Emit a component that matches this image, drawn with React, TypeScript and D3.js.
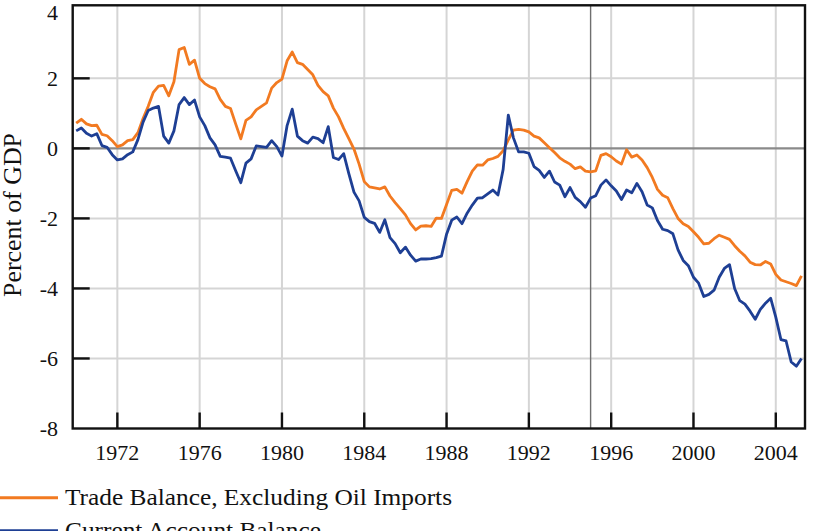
import * as d3 from "d3";

const W = 813;
const H = 531;

// quarterly series, first value is 1970 Q1
const firstQuarter = 1970;
const tradeExOil = [
  0.72, 0.83, 0.7, 0.65,
  0.66, 0.4, 0.36, 0.22,
  0.05, 0.1, 0.22, 0.25,
  0.45, 0.85, 1.2, 1.6,
  1.78, 1.8, 1.5, 1.9,
  2.82, 2.88, 2.4, 2.52,
  2.0, 1.85, 1.76, 1.7,
  1.4, 1.2, 1.14, 0.7,
  0.27, 0.8, 0.9, 1.1,
  1.2, 1.3, 1.72, 1.88,
  1.98, 2.5, 2.75, 2.45,
  2.4, 2.25, 2.1, 1.8,
  1.62, 1.5, 1.15, 0.9,
  0.57, 0.28, -0.02, -0.45,
  -0.95, -1.1, -1.13, -1.16,
  -1.1, -1.36, -1.55, -1.72,
  -1.9, -2.15, -2.33, -2.22,
  -2.21, -2.23, -1.99, -2.0,
  -1.6, -1.2, -1.17, -1.28,
  -0.95, -0.65, -0.47, -0.48,
  -0.33, -0.29, -0.23, -0.07,
  0.24, 0.52, 0.54, 0.52,
  0.47, 0.35, 0.3, 0.16,
  0.02, -0.12, -0.27, -0.37,
  -0.45, -0.58, -0.53, -0.65,
  -0.67, -0.64, -0.2, -0.15,
  -0.24, -0.36, -0.45, -0.04,
  -0.25, -0.19, -0.33, -0.55,
  -0.83, -1.17, -1.34, -1.41,
  -1.72, -2.0, -2.15, -2.23,
  -2.38, -2.54, -2.73, -2.71,
  -2.58, -2.48, -2.54, -2.6,
  -2.78, -2.94, -3.07, -3.25,
  -3.32, -3.33, -3.23, -3.3,
  -3.6, -3.76, -3.81, -3.86,
  -3.92, -3.64,
];
const currentAccount = [
  0.5, 0.58, 0.43, 0.35,
  0.42, 0.08, 0.03, -0.18,
  -0.33, -0.3, -0.18, -0.1,
  0.25, 0.75, 1.08, 1.15,
  1.2, 0.35, 0.15, 0.5,
  1.25, 1.45, 1.25, 1.38,
  0.9, 0.65, 0.3, 0.1,
  -0.23, -0.25, -0.28, -0.64,
  -0.98, -0.42, -0.3, 0.07,
  0.05, 0.03, 0.22, 0.05,
  -0.22, 0.65, 1.12, 0.35,
  0.22, 0.15, 0.32, 0.28,
  0.16, 0.62, -0.26, -0.32,
  -0.15, -0.72, -1.25, -1.5,
  -1.97, -2.09, -2.14, -2.4,
  -2.04, -2.55, -2.72, -2.98,
  -2.82, -3.05, -3.22, -3.16,
  -3.16, -3.15, -3.12, -3.08,
  -2.45, -2.05, -1.96, -2.15,
  -1.85, -1.62, -1.42, -1.41,
  -1.3, -1.19, -1.33, -0.6,
  0.95, 0.3, -0.1, -0.1,
  -0.14, -0.52, -0.63, -0.83,
  -0.65, -0.96, -1.05, -1.38,
  -1.12, -1.4, -1.52, -1.68,
  -1.42, -1.35, -1.05, -0.9,
  -1.07, -1.22, -1.46, -1.19,
  -1.27, -1.0, -1.24, -1.62,
  -1.7, -2.06, -2.31, -2.35,
  -2.44, -2.9, -3.2, -3.35,
  -3.68, -3.85, -4.23, -4.17,
  -4.05, -3.68, -3.43, -3.32,
  -4.0, -4.35, -4.45, -4.65,
  -4.88, -4.6, -4.42, -4.28,
  -4.82, -5.46, -5.5, -6.1,
  -6.22, -6.0,
];

const yTicks = [-8, -6, -4, -2, 0, 2, 4];
const yearTicks = [1972, 1976, 1980, 1984, 1988, 1992, 1996, 2000, 2004];
const markerYear = 1995;

const seriesNames = ["Trade Balance, Excluding Oil Imports", "Current Account Balance"];
const seriesColors = ["#f27a21", "#1e3f94"];

const font = "'Liberation Serif', 'DejaVu Serif', serif";

export default function App() {
  const x = d3.scaleLinear().domain([1969.83, 2005.42]).range([72.7, 805]);
  const y = d3.scaleLinear().domain([-8, 4]).range([428.5, 8.3]);

  const line = d3
    .line<number>()
    .x((_, i) => x(firstQuarter + i * 0.25))
    .y((d) => y(d));

  const series = [tradeExOil, currentAccount];
  const [left, right] = x.range();
  const [bottom, top] = y.range();

  return (
    <svg
      width={W}
      height={H}
      style={{ position: "absolute", left: 0, top: 0, background: "#fff" }}
      fontFamily={font}
    >
      {/* light grid */}
      <g stroke="#d5d5d5" strokeWidth={2}>
        {yearTicks.map((t) => (
          <line key={"v" + t} x1={x(t)} x2={x(t)} y1={top - 3} y2={bottom} />
        ))}
        {yTicks
          .filter((t) => t !== 0 && t > -8 && t < 4)
          .map((t) => (
            <line key={"h" + t} x1={left} x2={right} y1={y(t)} y2={y(t)} />
          ))}
      </g>
      {/* zero line and 1995 marker */}
      <line x1={left} x2={right} y1={y(0)} y2={y(0)} stroke="#8a8a8a" strokeWidth={2.2} />
      <line
        x1={x(markerYear)}
        x2={x(markerYear)}
        y1={top - 3}
        y2={bottom}
        stroke="#6f6f6f"
        strokeWidth={1.4}
      />

      {series.map((s, i) => (
        <path
          key={i}
          d={line(s) ?? ""}
          fill="none"
          stroke={seriesColors[i]}
          strokeWidth={2.8}
          strokeLinejoin="round"
        />
      ))}

      {/* frame */}
      <rect
        x={left}
        y={top - 3}
        width={right - left}
        height={bottom - top + 3}
        fill="none"
        stroke="#111"
        strokeWidth={2.4}
      />
      <g stroke="#111" strokeWidth={2.4}>
        {yTicks
          .filter((t) => t > -8 && t < 4)
          .map((t) => (
            <line key={"yt" + t} x1={left} x2={left + 17} y1={y(t)} y2={y(t)} />
          ))}
        {yearTicks.map((t) => (
          <line key={"xt" + t} x1={x(t)} x2={x(t)} y1={bottom} y2={bottom - 16} />
        ))}
      </g>

      {/* axis labels */}
      <g fontSize={22} fill="#111" textAnchor="end">
        {yTicks.map((t) => (
          <text key={"yl" + t} x={58} y={Math.max(y(t) + 7.5, 20)}>
            {t}
          </text>
        ))}
      </g>
      <g fontSize={22} fill="#111" textAnchor="middle">
        {yearTicks.map((t) => (
          <text key={"xl" + t} x={x(t)} y={460}>
            {t}
          </text>
        ))}
      </g>
      <text
        transform={`translate(21, 215) rotate(-90)`}
        fontSize={25}
        fill="#111"
        textAnchor="middle"
        textLength={164}
        lengthAdjust="spacingAndGlyphs"
      >
        Percent of GDP
      </text>

      {/* legend */}
      {seriesNames.map((name, i) => (
        <g key={name} transform={`translate(0, ${497.7 + i * 33})`}>
          <line x1={0} x2={58} y1={0} y2={0} stroke={seriesColors[i]} strokeWidth={3} />
          <text
            x={65}
            y={7.5}
            fontSize={23}
            fill="#111"
            textLength={i === 0 ? 387 : 256}
            lengthAdjust="spacingAndGlyphs"
          >
            {name}
          </text>
        </g>
      ))}
    </svg>
  );
}
